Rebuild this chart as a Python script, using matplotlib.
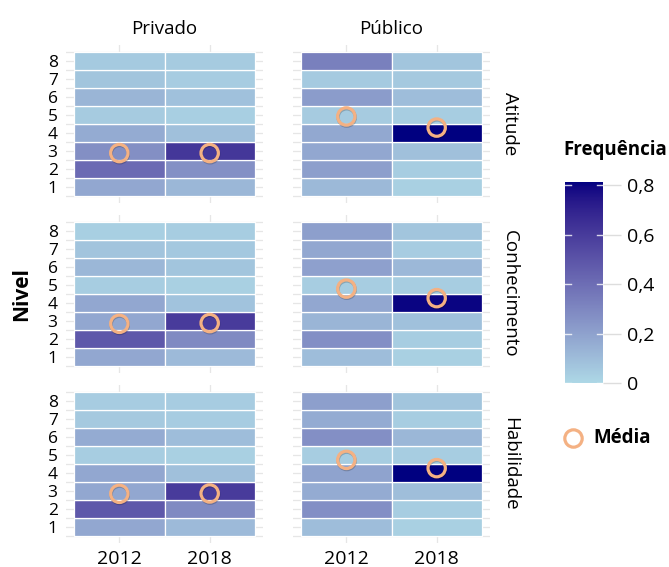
import numpy as np
import matplotlib
matplotlib.use("Agg")
import matplotlib.pyplot as plt
import matplotlib.patheffects as pe
from matplotlib.colors import ListedColormap, Normalize, to_rgb
from matplotlib.lines import Line2D
from matplotlib.cm import ScalarMappable

plt.rcParams["font.family"] = ["Open Sans", "DejaVu Sans"]

# --- data: frequency per level (levels 1..8) ---
levels = [1, 2, 3, 4, 5, 6, 7, 8]
years = ["2012", "2018"]
sectors = ["Privado", "Público"]
aspects = ["Atitude", "Conhecimento", "Habilidade"]

atitude_privado_2012 = [0.18, 0.41, 0.27, 0.165, 0.05, 0.13, 0.07, 0.053]
atitude_privado_2018 = [0.122, 0.265, 0.617, 0.087, 0.032, 0.085, 0.043, 0.05]
atitude_publico_2012 = [0.112, 0.21, 0.18, 0.175, 0.05, 0.22, 0.053, 0.33]
atitude_publico_2018 = [0.029, 0.04, 0.088, 0.813, 0.04, 0.10, 0.057, 0.07]

conhec_privado_2012 = [0.18, 0.483, 0.18, 0.18, 0.04, 0.122, 0.075, 0.032]
conhec_privado_2018 = [0.11, 0.29, 0.60, 0.077, 0.029, 0.07, 0.06, 0.04]
conhec_publico_2012 = [0.10, 0.268, 0.13, 0.18, 0.04, 0.205, 0.18, 0.21]
conhec_publico_2018 = [0.029, 0.04, 0.085, 0.80, 0.04, 0.115, 0.043, 0.07]

habil_privado_2012 = [0.18, 0.483, 0.18, 0.18, 0.04, 0.163, 0.055, 0.043]
habil_privado_2018 = [0.11, 0.29, 0.60, 0.087, 0.029, 0.10, 0.043, 0.043]
habil_publico_2012 = [0.10, 0.268, 0.165, 0.195, 0.04, 0.268, 0.163, 0.21]
habil_publico_2018 = [0.029, 0.04, 0.098, 0.81, 0.04, 0.122, 0.04, 0.072]

# mean level per panel: [2012, 2018]
media_atitude = {"Privado": [2.88, 2.88], "Público": [4.92, 4.30]}
media_conhec = {"Privado": [2.84, 2.88], "Público": [4.80, 4.27]}
media_habil = {"Privado": [2.84, 2.86], "Público": [4.73, 4.27]}

freq = {
    ("Atitude", "Privado"): [atitude_privado_2012, atitude_privado_2018],
    ("Atitude", "Público"): [atitude_publico_2012, atitude_publico_2018],
    ("Conhecimento", "Privado"): [conhec_privado_2012, conhec_privado_2018],
    ("Conhecimento", "Público"): [conhec_publico_2012, conhec_publico_2018],
    ("Habilidade", "Privado"): [habil_privado_2012, habil_privado_2018],
    ("Habilidade", "Público"): [habil_publico_2012, habil_publico_2018],
}
medias = {"Atitude": media_atitude, "Conhecimento": media_conhec,
          "Habilidade": media_habil}


# --- lightblue -> navy gradient interpolated in CIELAB (like ggplot) ---
WHITE = np.array([0.95047, 1.0, 1.08883])
M = np.array([[0.4124, 0.3576, 0.1805],
              [0.2126, 0.7152, 0.0722],
              [0.0193, 0.1192, 0.9505]])


def to_lab(c):
    c = np.asarray(c, dtype=float)
    lin = np.where(c <= 0.04045, c / 12.92, ((c + 0.055) / 1.055) ** 2.4)
    t = (M @ lin) / WHITE
    d = 6 / 29
    f = np.where(t > d ** 3, np.cbrt(t), t / (3 * d * d) + 4 / 29)
    return np.array([116 * f[1] - 16, 500 * (f[0] - f[1]), 200 * (f[1] - f[2])])


def from_lab(lab):
    L, a, b = lab
    fy = (L + 16) / 116
    f = np.array([fy + a / 500, fy, fy - b / 200])
    d = 6 / 29
    t = np.where(f > d, f ** 3, 3 * d * d * (f - 4 / 29)) * WHITE
    lin = np.linalg.solve(M, t)
    lin = np.clip(lin, 0, 1)
    c = np.where(lin <= 0.0031308, 12.92 * lin, 1.055 * lin ** (1 / 2.4) - 0.055)
    return np.clip(c, 0, 1)


lo, hi = to_lab(to_rgb("lightblue")), to_lab(to_rgb("navy"))
cmap = ListedColormap([from_lab(lo + (hi - lo) * s) for s in np.linspace(0, 1, 256)])
vmax = max(max(v) for pair in freq.values() for v in pair)
norm = Normalize(vmin=0, vmax=vmax)

W, H = 669, 567
fig = plt.figure(figsize=(W / 100, H / 100), dpi=100)

col_left = [66, 293]
row_top = [45, 215, 385]
ax_w, ax_h = 197, 158
grid_c = "#E6E6E6"
circle_c = "#F4B183"

for i, asp in enumerate(aspects):
    for j, sec in enumerate(sectors):
        ax = fig.add_axes([col_left[j] / W, 1 - (row_top[i] + ax_h) / H, ax_w / W, ax_h / H])
        ax.set_xlim(0.41, 2.59)
        ax.set_ylim(0.1, 8.9)
        for y in np.arange(0.5, 8.51, 0.5):
            ax.axhline(y, color=grid_c, lw=0.9, zorder=0)
        for x in (1, 2):
            ax.axvline(x, color=grid_c, lw=0.9, zorder=0)
        for k, yr in enumerate(years):
            vals = freq[(asp, sec)][k]
            ax.bar([k + 1] * len(levels), [1] * len(levels), width=1,
                   bottom=np.array(levels) - 0.5, color=cmap(norm(vals)),
                   edgecolor="white", linewidth=0.9, zorder=2)
        ax.plot([1, 2], medias[asp][sec], ls="none", marker="o", ms=12.5,
                mfc="none", mec=circle_c, mew=2.3, zorder=4,
                path_effects=[pe.SimpleLineShadow(offset=(0.3, -0.8), shadow_color="k", alpha=0.2),
                              pe.Normal()])
        for s in ax.spines.values():
            s.set_visible(False)
        ax.tick_params(length=0)
        ax.set_yticks(levels)
        if j == 0:
            ax.set_yticklabels([str(l) for l in levels], fontsize=12.5)
            ax.tick_params(axis="y", pad=6)
        else:
            ax.set_yticklabels([])
        ax.set_xticks([1, 2])
        if i == 2:
            ax.set_xticklabels(years, fontsize=14)
            ax.tick_params(axis="x", pad=5)
        else:
            ax.set_xticklabels([])
        if i == 0:
            ax.set_title(sec, fontsize=13.5, pad=8)
        if j == 1:
            ax.text(1.055, 0.5, asp, transform=ax.transAxes, rotation=-90,
                    ha="left", va="center", fontsize=13.5)

fig.text(22 / W, 1 - 294 / H, "Nivel", rotation=90, ha="center", va="center",
         fontsize=15, fontweight="bold")

# colour bar legend
cax = fig.add_axes([565 / W, 1 - 383.3 / H, 38 / W, 201.6 / H])
cb = fig.colorbar(ScalarMappable(norm=norm, cmap=cmap), cax=cax)
cb.outline.set_visible(False)
ticks = [0, 0.2, 0.4, 0.6, 0.8]
cb.set_ticks(ticks)
cb.set_ticklabels(["0", "0,2", "0,4", "0,6", "0,8"])
cax.tick_params(length=13, width=1, color="#DDDDDD", labelsize=14, pad=4)
for t in ticks:
    cax.plot([0, 0.15], [t, t], color="white", lw=1, alpha=0.8)
    cax.plot([0.85, 1], [t, t], color="white", lw=1, alpha=0.8)
cax.set_xlim(0, 1)
fig.text(563 / W, 1 - 150 / H, "Frequência", ha="left", va="center",
         fontsize=13.5, fontweight="bold")

fig.add_artist(Line2D([573 / W], [1 - 438 / H], transform=fig.transFigure,
                      marker="o", ms=12.5, mfc="none", mec=circle_c, mew=2.3, ls="none"))
fig.text(593 / W, 1 - 438 / H, "Média", ha="left", va="center",
         fontsize=13.5, fontweight="bold")

fig.savefig("out.png", dpi=100)
